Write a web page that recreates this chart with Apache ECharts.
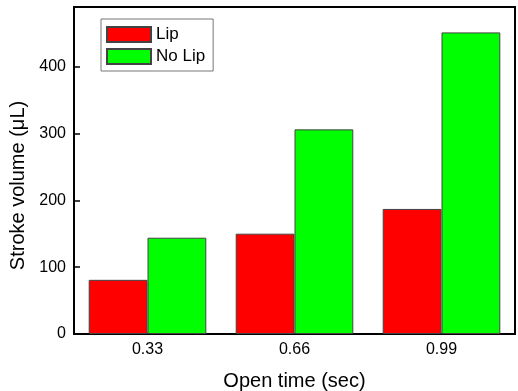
<!DOCTYPE html>
<html>
<head>
<meta charset="utf-8">
<script src="https://cdn.jsdelivr.net/npm/echarts@6/dist/echarts.min.js"></script>
<style>
html,body{margin:0;padding:0;background:#fff;}
#chart{width:518px;height:391px;}
</style>
</head>
<body>
<div id="chart"></div>
<script>
var categories = ['0.33', '0.66', '0.99'];
var lipValues = [81, 150, 187];
var noLipValues = [144, 306, 451];
var seriesNames = ['Lip', 'No Lip'];

var chart = echarts.init(document.getElementById('chart'), null, {renderer: 'canvas'});
var font = 'Arial, "Liberation Sans", sans-serif';
chart.setOption({
  animation: false,
  backgroundColor: '#ffffff',
  grid: {
    left: 74, top: 7, right: 3, bottom: 57,
    containLabel: false,
    outerBoundsMode: 'none',
    show: true, borderColor: '#000', borderWidth: 2, backgroundColor: 'transparent'
  },
  legend: {
    orient: 'vertical',
    left: 101, top: 19,
    padding: [7, 8, 6, 5],
    itemGap: 5,
    itemWidth: 44, itemHeight: 15,
    borderColor: '#777', borderWidth: 1,
    icon: 'rect',
    data: seriesNames,
    textStyle: {fontFamily: font, fontSize: 17, color: '#000'}
  },
  xAxis: {
    type: 'category',
    data: categories,
    boundaryGap: true,
    name: 'Open time (sec)',
    nameLocation: 'middle',
    nameGap: 37,
    nameTextStyle: {fontFamily: font, fontSize: 20, color: '#000'},
    axisLine: {lineStyle: {color: '#000', width: 2}},
    axisTick: {inside: true, alignWithLabel: true, length: 6, lineStyle: {color: '#000', width: 1.5}},
    axisLabel: {fontFamily: font, fontSize: 16, color: '#000', margin: 8},
    splitLine: {show: false}
  },
  yAxis: {
    type: 'value',
    min: 0, max: 489, interval: 100,
    name: 'Stroke volume (\u03bcL)',
    nameLocation: 'middle',
    nameGap: 44,
    nameTextStyle: {fontFamily: font, fontSize: 20, color: '#000', padding: [0, 30, 0, 0]},
    axisLine: {show: true, lineStyle: {color: '#000', width: 2}},
    axisTick: {show: true, inside: true, length: 6, lineStyle: {color: '#000', width: 1.5}},
    axisLabel: {fontFamily: font, fontSize: 16, color: '#000', margin: 8, showMaxLabel: false},
    splitLine: {show: false}
  },
  series: [
    {
      name: seriesNames[0], type: 'bar', data: lipValues,
      barGap: '0%', barCategoryGap: '20%',
      itemStyle: {color: '#ff0000', borderColor: '#444', borderWidth: 1}
    },
    {
      name: seriesNames[1], type: 'bar', data: noLipValues,
      barGap: '0%', barCategoryGap: '20%',
      itemStyle: {color: '#00ff00', borderColor: '#444', borderWidth: 1}
    }
  ]
});
</script>
</body>
</html>
